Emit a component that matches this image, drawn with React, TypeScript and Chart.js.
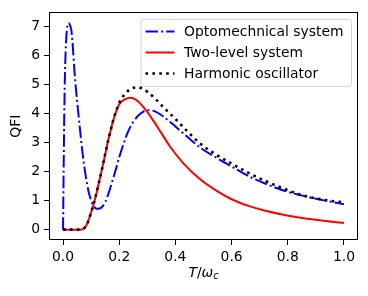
import React, { useEffect, useRef } from 'react';
import { Chart, registerables } from 'chart.js';

Chart.register(...registerables);

const seriesLabels = ['Optomechnical system', 'Two-level system', 'Harmonic oscillator'];
const xTicks = [0, 0.2, 0.4, 0.6, 0.8, 1.0];
const yTicks = [0, 1, 2, 3, 4, 5, 6, 7];

const optoX = [0, 0.002, 0.005, 0.008, 0.012, 0.016, 0.02, 0.025, 0.03, 0.035, 0.04, 0.046, 0.053, 0.061, 0.07, 0.08, 0.09, 0.1, 0.11, 0.12, 0.13, 0.14, 0.15, 0.16, 0.17, 0.18, 0.19, 0.2, 0.215, 0.23, 0.25, 0.275, 0.3, 0.325, 0.36, 0.4, 0.44, 0.49, 0.55, 0.6, 0.67, 0.73, 0.78, 0.84, 0.9, 0.95, 1.0];
const optoY = [0, 2.0, 4.4, 5.8, 6.7, 7.05, 7.13, 7.05, 6.85, 6.3, 5.55, 4.85, 4.15, 3.4, 2.6, 1.9, 1.35, 1.0, 0.8, 0.72, 0.73, 0.8, 0.95, 1.2, 1.5, 1.82, 2.15, 2.5, 2.95, 3.35, 3.72, 4.0, 4.12, 4.09, 3.88, 3.56, 3.22, 2.82, 2.46, 2.18, 1.8, 1.55, 1.37, 1.2, 1.07, 0.97, 0.88];

const twoLevelX = [0, 0.02, 0.04, 0.06, 0.07, 0.08, 0.09, 0.1, 0.11, 0.12, 0.13, 0.14, 0.15, 0.16, 0.17, 0.18, 0.19, 0.2, 0.22, 0.24, 0.26, 0.28, 0.3, 0.32, 0.35, 0.38, 0.43, 0.49, 0.55, 0.6, 0.66, 0.72, 0.78, 0.84, 0.9, 0.95, 1.0];
const twoLevelY = [0, 0, 0, 0, 0.02, 0.1, 0.3, 0.6, 0.92, 1.3, 1.72, 2.15, 2.6, 3.05, 3.45, 3.82, 4.1, 4.33, 4.5, 4.55, 4.48, 4.3, 4.06, 3.78, 3.33, 2.88, 2.27, 1.72, 1.32, 1.05, 0.82, 0.65, 0.52, 0.42, 0.34, 0.28, 0.23];

const harmonicX = [0, 0.02, 0.04, 0.06, 0.07, 0.08, 0.09, 0.1, 0.11, 0.12, 0.13, 0.14, 0.15, 0.16, 0.17, 0.18, 0.19, 0.2, 0.22, 0.24, 0.26, 0.28, 0.3, 0.33, 0.36, 0.4, 0.44, 0.49, 0.54, 0.6, 0.66, 0.72, 0.78, 0.84, 0.9, 0.95, 1.0];
const harmonicY = [0, 0, 0, 0, 0.02, 0.1, 0.3, 0.6, 0.92, 1.3, 1.72, 2.15, 2.6, 3.05, 3.45, 3.82, 4.12, 4.38, 4.68, 4.85, 4.91, 4.88, 4.76, 4.5, 4.2, 3.82, 3.42, 2.96, 2.62, 2.28, 1.96, 1.68, 1.44, 1.22, 1.08, 1.0, 0.94];

const FONT = "'DejaVu Sans', sans-serif";
const FS = 13.9;

const toPoints = (xs: number[], ys: number[]) => xs.map((x, i) => ({ x, y: ys[i] }));

const decorPlugin = {
  id: 'decor',
  afterDraw(chart: any) {
    const { ctx, chartArea: a } = chart;
    ctx.save();
    // frame
    ctx.strokeStyle = '#000';
    ctx.lineWidth = 1;
    ctx.setLineDash([]);
    ctx.strokeRect(Math.round(a.left) + 0.5, Math.round(a.top) + 0.5, Math.round(a.right - a.left) - 1, Math.round(a.bottom - a.top) - 1);

    // legend
    ctx.font = `${FS}px ${FONT}`;
    const dsets = chart.data.datasets;
    let maxW = 0;
    dsets.forEach((d: any) => { maxW = Math.max(maxW, ctx.measureText(d.label).width); });
    const boxRight = a.right - 6.5;
    const boxTop = a.top + 7;
    const boxW = 43 + maxW + 8;
    const boxH = 67;
    const boxLeft = boxRight - boxW;
    const r = 3;
    ctx.beginPath();
    ctx.moveTo(boxLeft + r, boxTop);
    ctx.lineTo(boxRight - r, boxTop);
    ctx.quadraticCurveTo(boxRight, boxTop, boxRight, boxTop + r);
    ctx.lineTo(boxRight, boxTop + boxH - r);
    ctx.quadraticCurveTo(boxRight, boxTop + boxH, boxRight - r, boxTop + boxH);
    ctx.lineTo(boxLeft + r, boxTop + boxH);
    ctx.quadraticCurveTo(boxLeft, boxTop + boxH, boxLeft, boxTop + boxH - r);
    ctx.lineTo(boxLeft, boxTop + r);
    ctx.quadraticCurveTo(boxLeft, boxTop, boxLeft + r, boxTop);
    ctx.closePath();
    ctx.fillStyle = 'rgba(255,255,255,0.8)';
    ctx.fill();
    ctx.strokeStyle = '#d0d0d0';
    ctx.lineWidth = 1;
    ctx.stroke();

    dsets.forEach((d: any, i: number) => {
      const y = boxTop + 12 + i * 21;
      ctx.beginPath();
      ctx.strokeStyle = d.borderColor;
      ctx.lineWidth = d.borderWidth;
      ctx.lineCap = 'butt';
      ctx.setLineDash(d.borderDash || []);
      ctx.moveTo(boxLeft + 4.5, Math.round(y) + 0.5);
      ctx.lineTo(boxLeft + 33.5, Math.round(y) + 0.5);
      ctx.stroke();
      ctx.setLineDash([]);
      ctx.fillStyle = '#000';
      ctx.textAlign = 'left';
      ctx.textBaseline = 'middle';
      ctx.fillText(d.label, boxLeft + 43, y + 1);
    });

    // x title: T/ω_c
    ctx.fillStyle = '#000';
    ctx.textBaseline = 'alphabetic';
    ctx.textAlign = 'left';
    const parts = [
      { t: 'T', f: `oblique ${FS}px ${FONT}`, dy: 0 },
      { t: '/', f: `${FS}px ${FONT}`, dy: 0 },
      { t: 'ω', f: `oblique ${FS}px ${FONT}`, dy: 0 },
      { t: 'c', f: `oblique 9.7px ${FONT}`, dy: 2.5 },
    ];
    let total = 0;
    parts.forEach((p) => { ctx.font = p.f; total += ctx.measureText(p.t).width; });
    let x = (a.left + a.right) / 2 - total / 2;
    const base = a.bottom + 36.5;
    parts.forEach((p) => {
      ctx.font = p.f;
      ctx.fillText(p.t, x, base + p.dy);
      x += ctx.measureText(p.t).width;
    });

    // y title
    ctx.save();
    ctx.translate(16, (a.top + a.bottom) / 2);
    ctx.rotate(-Math.PI / 2);
    ctx.font = `${FS}px ${FONT}`;
    ctx.textAlign = 'center';
    ctx.textBaseline = 'middle';
    ctx.fillText('QFI', 0, 0);
    ctx.restore();

    ctx.restore();
  },
};

export default function App() {
  const ref = useRef<HTMLCanvasElement | null>(null);
  useEffect(() => {
    document.body.style.margin = '0';
    const canvas = ref.current!;
    Chart.defaults.font.family = FONT;
    Chart.defaults.font.size = FS;
    Chart.defaults.color = '#000';
    const chart = new Chart(canvas, {
      type: 'line',
      data: {
        datasets: [
          {
            label: seriesLabels[0],
            data: toPoints(optoX, optoY),
            borderColor: '#0000ff',
            borderWidth: 2,
            borderDash: [12.5, 3.1, 2, 3.1],
            pointRadius: 0,
            cubicInterpolationMode: 'monotone',
            fill: false,
            order: 3,
          },
          {
            label: seriesLabels[1],
            data: toPoints(twoLevelX, twoLevelY),
            borderColor: '#ff0000',
            borderWidth: 2,
            pointRadius: 0,
            cubicInterpolationMode: 'monotone',
            fill: false,
            order: 2,
          },
          {
            label: seriesLabels[2],
            data: toPoints(harmonicX, harmonicY),
            borderColor: '#000000',
            borderWidth: 2.6,
            borderDash: [2.6, 4.3],
            pointRadius: 0,
            cubicInterpolationMode: 'monotone',
            fill: false,
            order: 1,
          },
        ],
      },
      options: {
        animation: false,
        responsive: false,
        events: [],
        layout: { padding: { top: 9, right: 10, left: 0, bottom: 0 } },
        plugins: { legend: { display: false }, tooltip: { enabled: false } },
        scales: {
          x: {
            type: 'linear',
            min: -0.05,
            max: 1.05,
            afterBuildTicks: (s: any) => { s.ticks = xTicks.map((v) => ({ value: v })); },
            afterFit: (s: any) => { s.height = 56; },
            ticks: { callback: (v: any) => Number(v).toFixed(1), padding: 4, maxRotation: 0, autoSkip: false, font: { size: FS } },
            grid: { display: true, drawOnChartArea: false, drawTicks: true, tickLength: 5, color: '#000', lineWidth: 1 },
            border: { display: false },
          },
          y: {
            type: 'linear',
            min: -0.357,
            max: 7.5,
            afterBuildTicks: (s: any) => { s.ticks = yTicks.map((v) => ({ value: v })); },
            afterFit: (s: any) => { s.width = 49; },
            ticks: { callback: (v: any) => String(v), padding: 4, autoSkip: false, font: { size: FS } },
            grid: { display: true, drawOnChartArea: false, drawTicks: true, tickLength: 5, color: '#000', lineWidth: 1 },
            border: { display: false },
          },
        },
      },
      plugins: [decorPlugin],
    } as any);
    return () => chart.destroy();
  }, []);
  return (
    <div style={{ position: 'absolute', left: 0, top: 0, width: 368, height: 296, background: '#fff' }}>
      <canvas ref={ref} width={368} height={296} style={{ width: 368, height: 296, display: 'block' }} />
    </div>
  );
}
